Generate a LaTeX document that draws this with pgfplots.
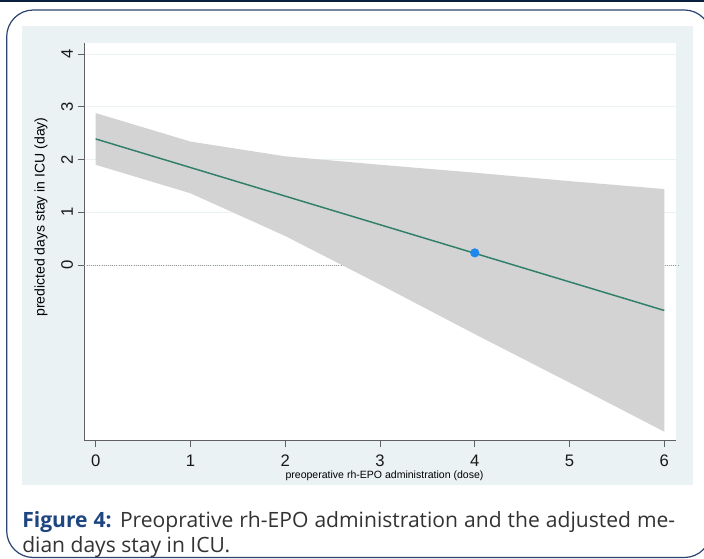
\documentclass[border=0pt]{standalone}
\usepackage{pgfplots}
\pgfplotsset{compat=1.18}
\usepackage{fontspec}
\setmainfont{Liberation Sans}
\newfontfamily\capfont{Open Sans}
\definecolor{topbar}{HTML}{0B1F3F}
\definecolor{framecol}{HTML}{2A4470}
\definecolor{bgblue}{HTML}{EAF2F3}
\definecolor{gridcol}{HTML}{EAF2F3}
\definecolor{axiscol}{HTML}{606060}
\definecolor{cigray}{HTML}{D3D3D3}
\definecolor{linecol}{HTML}{2F7F6A}
\definecolor{ptcol}{HTML}{1E88F0}
\definecolor{capblue}{HTML}{1D4580}
\definecolor{captext}{HTML}{333333}
\begin{document}
\begin{tikzpicture}
\useasboundingbox (0,0) rectangle (528pt,418.5pt);
\clip (0,0) rectangle (528pt,418.5pt);
\begin{scope}[x=0.75pt,y=-0.75pt,yshift=418.5pt]
  \fill[white] (0,0) rectangle (704,558);
  \fill[topbar] (0,0) rectangle (704,2.5);
  \draw[framecol, line width=0.9pt, rounded corners=20pt] (6.7,10) rectangle (711,557.5);
  \fill[bgblue] (22,26) rectangle (692.7,485);
\end{scope}
\begin{axis}[
  at={(63.375pt,88.125pt)}, anchor=south west,
  width=443.6pt, height=297.9pt, scale only axis,
  xmin=-0.118, xmax=6.123, ymin=-3.327, ymax=4.203,
  axis x line*=bottom, axis y line*=left,
  axis line style={axiscol, line width=0.8pt},
  axis background/.style={fill=white},
  xtick={0,1,2,3,4,5,6}, ytick={0,1,2,3,4},
  tick align=outside, major tick length=5pt,
  tick style={axiscol, line width=0.7pt},
  ymajorgrids, grid style={gridcol, line width=0.7pt},
  /pgf/number format/assume math mode=true,
  tick label style={font=\fontsize{12.5}{14}\selectfont, text=black!90},
  xticklabel style={anchor=center, yshift=-10.5pt},
  yticklabel style={rotate=90, anchor=center, yshift=8pt},
  xlabel={preoperative rh-EPO administration (dose)},
  ylabel={predicted days stay in ICU (day)},
  xlabel style={font=\fontsize{7.9}{9}\selectfont, at={(rel axis cs:0.5072,-0.088)}, anchor=center},
  ylabel style={font=\fontsize{10.5}{12}\selectfont, at={(rel axis cs:-0.0735,0.5627)}, anchor=center},
  clip=false,
]
\addplot[densely dotted, gray!80, line width=0.6pt] coordinates {(-0.118,0) (6.15,0)};
\addplot[fill=cigray, draw=none] coordinates {
  (0,2.88) (1,2.34) (2,2.06) (3,1.90) (4,1.75) (5,1.59) (6,1.44)
  (6,-3.16) (5,-2.23) (4,-1.31) (3,-0.37) (2,0.55) (1,1.36) (0,1.90)
} -- cycle;
\addplot[linecol, line width=1.1pt] coordinates {
  (0,2.39) (1,1.848) (2,1.306) (3,0.764) (4,0.222) (5,-0.320) (6,-0.862)
};
\addplot[only marks, mark=*, mark size=3.2pt, ptcol] coordinates {(4,0.23)};
\end{axis}
\begin{scope}[x=0.75pt,y=-0.75pt,yshift=418.5pt]
  \node[anchor=base west, inner sep=0pt, text=captext] at (22,527)
    {\capfont\fontsize{15.8}{19}\selectfont\makebox[489.75pt][s]{\textcolor{capblue}{\bfseries Figure 4:} Preoprative rh-EPO administration and the adjusted me-}};
  \node[anchor=base west, inner sep=0pt, text=captext] at (22,552)
    {\capfont\fontsize{15.8}{19}\selectfont dian days stay in ICU.};
\end{scope}
\end{tikzpicture}
\end{document}
